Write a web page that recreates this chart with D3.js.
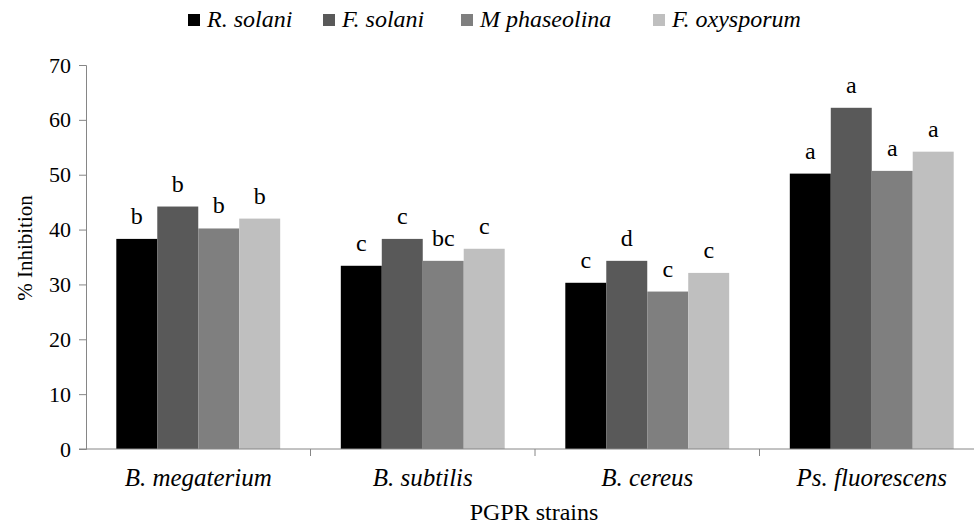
<!DOCTYPE html>
<html>
<meta charset=utf-8>
<title>PGPR strains</title>
<style>
  body { margin: 0; background: #fff; }
</style>
<svg id=chart width=974 height=526 font-family="Liberation Serif"></svg>
<script src="https://cdn.jsdelivr.net/npm/d3@7"></script>
<script>
// data
var strains = ["B. megaterium", "B. subtilis", "B. cereus", "Ps. fluorescens"];
var pathogens = ["R. solani", "F. solani", "M phaseolina", "F. oxysporum"];
var rSolani = [38.3, 33.4, 30.3, 50.2];
var fSolani = [44.2, 38.3, 34.3, 62.2];
var mPhaseolina = [40.2, 34.3, 28.7, 50.7];
var fOxysporum = [42.0, 36.5, 32.1, 54.2];
var letters = [
    ["b", "c", "c", "a"],
    ["b", "c", "d", "a"],
    ["b", "bc", "c", "a"],
    ["b", "c", "c", "a"]
];
var yTicks = [0, 10, 20, 30, 40, 50, 60, 70];

var series = [rSolani, fSolani, mPhaseolina, fOxysporum];
var colors = ["#000000", "#595959", "#7f7f7f", "#bfbfbf"];
var FONT = "Liberation Serif";

var svg = d3.select("#chart");

// plot area
var mLeft = 86, mRight = 984, mTop = 65, mBottom = 449;

var x0 = d3.scaleBand().domain(strains).range([mLeft, mRight]).paddingInner(0).paddingOuter(0);
var groupW = x0.bandwidth() * 0.73;
var x1 = d3.scaleBand().domain(d3.range(pathogens.length)).range([0, groupW]);
var y = d3.scaleLinear().domain([0, 70]).range([mBottom, mTop]);

// bars + letters of significance
var g = svg.append("g");
strains.forEach(function (s, i) {
    var gx = x0(s) + (x0.bandwidth() - groupW) / 2;
    series.forEach(function (vals, k) {
        g.append("rect")
            .attr("x", gx + x1(k))
            .attr("y", y(vals[i]))
            .attr("width", x1.bandwidth())
            .attr("height", y(0) - y(vals[i]))
            .attr("fill", colors[k]);
        g.append("text")
            .attr("x", gx + x1(k) + x1.bandwidth() / 2)
            .attr("y", y(vals[i]) - 15)
            .attr("text-anchor", "middle")
            .attr("font-family", FONT)
            .attr("font-size", 24)
            .text(letters[k][i]);
    });
});

// y axis
var yAxis = svg.append("g")
    .attr("transform", "translate(" + mLeft + ",0)")
    .call(d3.axisLeft(y).tickValues(yTicks).tickSize(7).tickPadding(8))
    .attr("font-family", FONT)
    .attr("font-size", 22);
yAxis.selectAll("text").attr("fill", "#000");
yAxis.selectAll("line, path").attr("stroke", "#868686");

// x axis
var xAxis = svg.append("g")
    .attr("transform", "translate(0," + mBottom + ")");
xAxis.append("line")
    .attr("x1", mLeft - 7).attr("x2", 974)
    .attr("stroke", "#868686");
xAxis.selectAll(".tk").data(strains.slice(1)).enter().append("line")
    .attr("x1", function (d) { return x0(d); })
    .attr("x2", function (d) { return x0(d); })
    .attr("y2", 7)
    .attr("stroke", "#868686");
xAxis.selectAll(".lbl").data(strains).enter().append("text")
    .attr("x", function (d) { return x0(d) + x0.bandwidth() / 2; })
    .attr("y", 37)
    .attr("text-anchor", "middle")
    .attr("font-family", FONT)
    .attr("font-size", 25)
    .attr("font-style", "italic")
    .text(function (d) { return d; });

// axis titles
svg.append("text")
    .attr("x", 534).attr("y", 520)
    .attr("text-anchor", "middle")
    .attr("font-family", FONT)
    .attr("font-size", 24)
    .text("PGPR strains");
svg.append("text")
    .attr("transform", "translate(32,248) rotate(-90)")
    .attr("text-anchor", "middle")
    .attr("font-family", FONT)
    .attr("font-size", 21)
    .text("% Inhibition");

// legend
var legX = [188, 323, 461, 653];
var leg = svg.append("g").attr("transform", "translate(0,20)");
pathogens.forEach(function (p, k) {
    leg.append("rect")
        .attr("x", legX[k]).attr("y", -6)
        .attr("width", 12).attr("height", 12)
        .attr("fill", colors[k]);
    leg.append("text")
        .attr("x", legX[k] + 19).attr("y", 7)
        .attr("font-family", FONT)
        .attr("font-size", 24)
        .attr("font-style", "italic")
        .text(p);
});
</script>
</html>
